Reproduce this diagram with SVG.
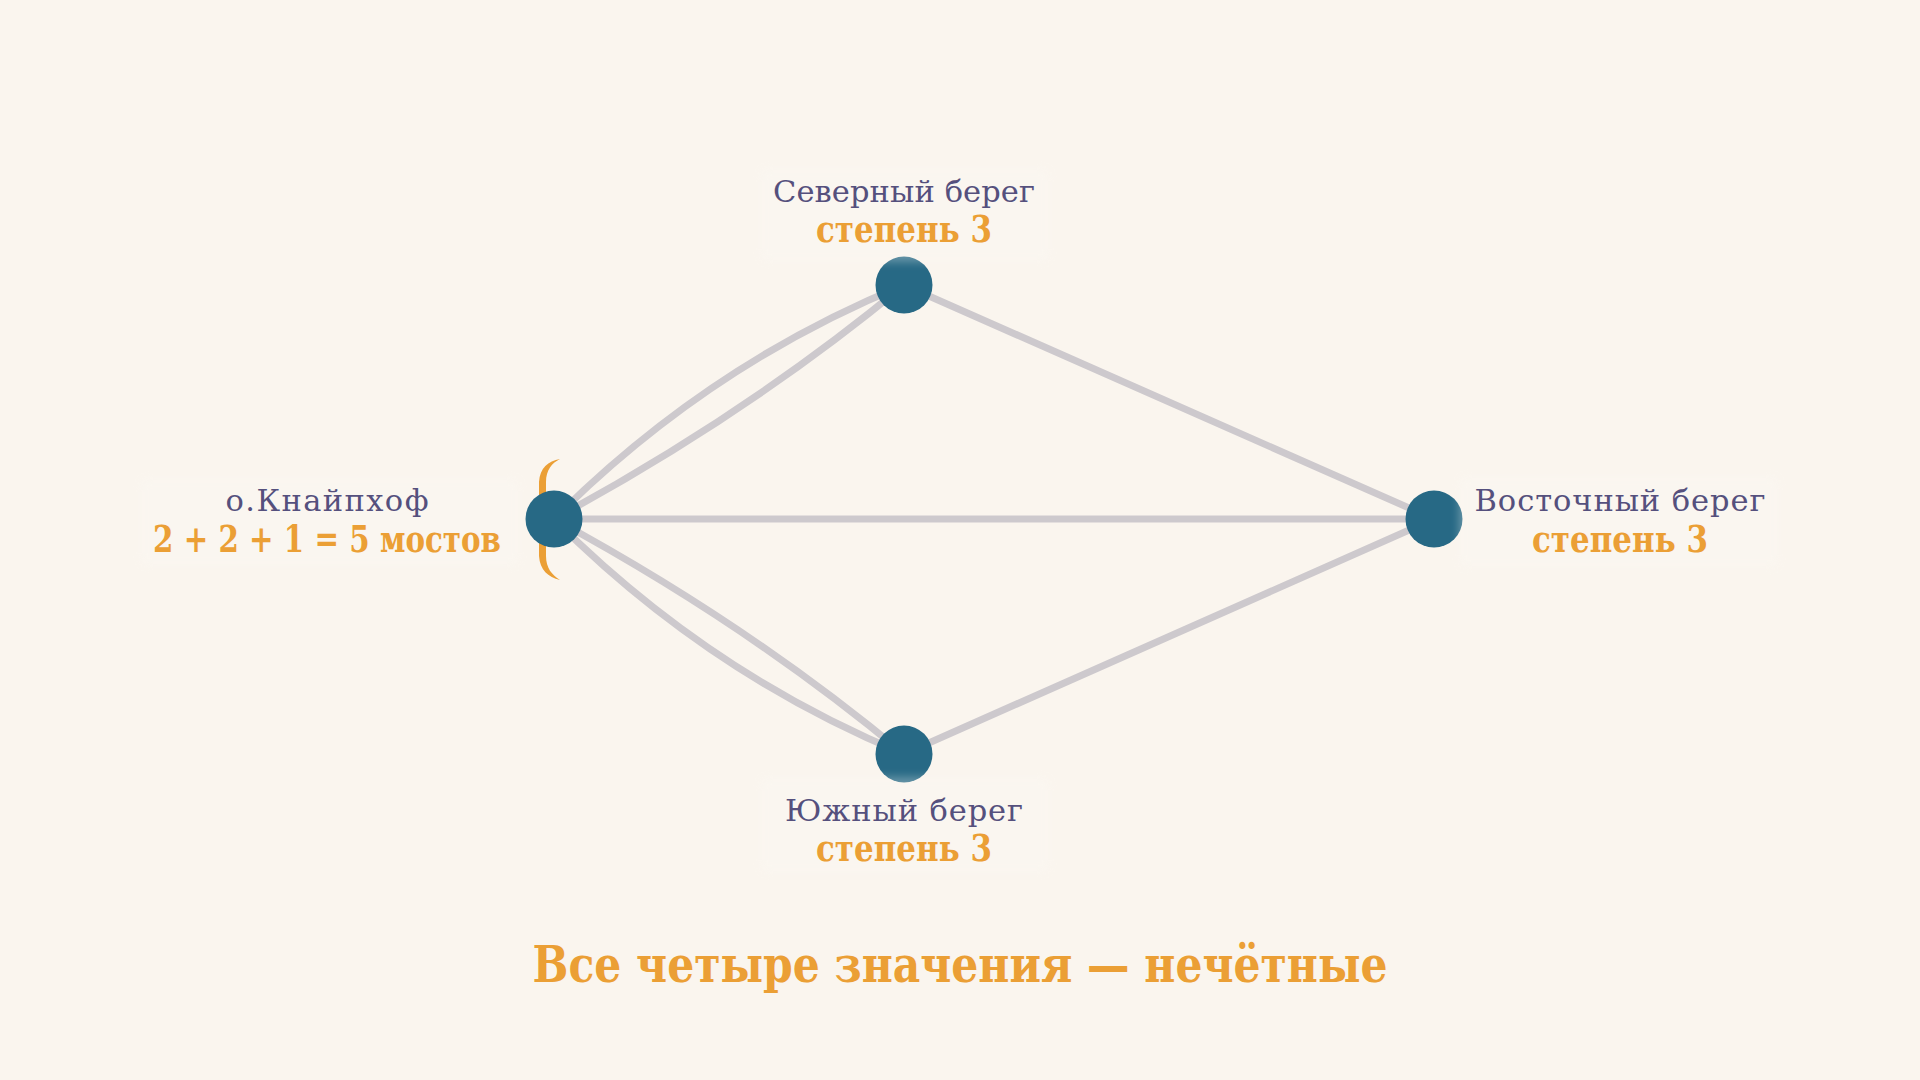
<svg xmlns="http://www.w3.org/2000/svg" width="1920" height="1080" viewBox="0 0 1920 1080">
  <defs>
    <filter id="soft" x="-20%" y="-40%" width="140%" height="180%">
      <feGaussianBlur stdDeviation="4"/>
    </filter>
  </defs>
  <style>
    .edge { fill: none; stroke: #cdc9cd; stroke-width: 7; stroke-linecap: round; }
    .node { fill: #276985; }
    .lbg { fill: #fcf9f5; opacity: 0.3; filter: url(#soft); }
    .name { font-family: "DejaVu Serif", "Liberation Serif", serif; font-size: 30.5px; fill: #55507d; text-anchor: middle; }
    .deg { font-family: "DejaVu Serif", "Liberation Serif", serif; font-weight: bold; font-size: 37px; fill: #eb9f35; text-anchor: middle; }
    .title { font-family: "DejaVu Serif", "Liberation Serif", serif; font-weight: bold; font-size: 50px; fill: #eb9f35; text-anchor: middle; }
  </style>
  <rect width="1920" height="1080" fill="#faf5ee"/>

  <g id="connectors">
    <path class="edge" d="M554 519 Q 708 365 904 285"/>
    <path class="edge" d="M554 519 Q 748 414 904 285"/>
    <line class="edge" x1="554" y1="519" x2="1434" y2="519"/>
    <path class="edge" d="M554 519 Q 708 673 904 754"/>
    <path class="edge" d="M554 519 Q 748 624 904 754"/>
    <line class="edge" x1="904" y1="285" x2="1434" y2="519"/>
    <line class="edge" x1="904" y1="754" x2="1434" y2="519"/>
  </g>

  <g id="bracket">
    <path fill="#eb9f35" d="M560 459 C 548 461 540 468 539 482 L 539 556 C 540 570 548 577 560 580 C 552 575 546 568 546 556 L 546 482 C 546 470 552 463 560 459 Z"/>
  </g>

  <g id="node-west">
    <circle class="node" cx="554" cy="519" r="28.5"/>
    <rect class="lbg" x="140" y="478" width="380" height="88" rx="8"/>
    <text class="name" x="327" y="511" textLength="203">о.Кнайпхоф</text>
    <text class="deg" x="327" y="552" textLength="348" lengthAdjust="spacingAndGlyphs">2 + 2 + 1 = 5 мостов</text>
  </g>

  <g id="node-north">
    <circle class="node" cx="904" cy="285" r="28.5"/>
    <rect class="lbg" x="760" y="168" width="290" height="94" rx="8"/>
    <text class="name" x="904" y="202" textLength="262">Северный берег</text>
    <text class="deg" x="904" y="242" textLength="176" lengthAdjust="spacingAndGlyphs">степень 3</text>
  </g>

  <g id="node-east">
    <circle class="node" cx="1434" cy="519" r="28.5"/>
    <rect class="lbg" x="1459" y="476" width="320" height="92" rx="8"/>
    <text class="name" x="1620" y="511" textLength="291">Восточный берег</text>
    <text class="deg" x="1620" y="552" textLength="176" lengthAdjust="spacingAndGlyphs">степень 3</text>
  </g>

  <g id="node-south">
    <circle class="node" cx="904" cy="754" r="28.5"/>
    <rect class="lbg" x="760" y="777" width="290" height="96" rx="8"/>
    <text class="name" x="904" y="821" textLength="238">Южный берег</text>
    <text class="deg" x="904" y="861" textLength="176" lengthAdjust="spacingAndGlyphs">степень 3</text>
  </g>

  <text class="title" x="960" y="982" textLength="855" lengthAdjust="spacingAndGlyphs">Все четыре значения — нечётные</text>
</svg>
